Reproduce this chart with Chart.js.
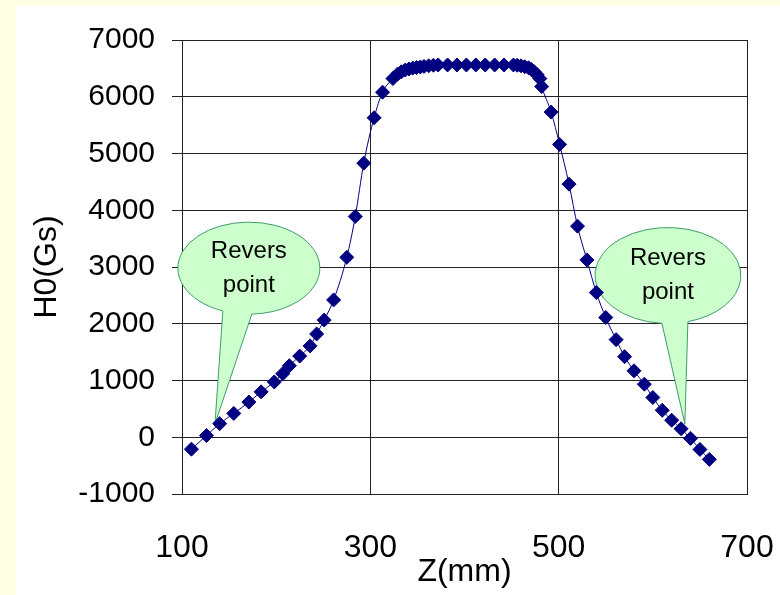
<!DOCTYPE html>
<html>
<head>
<meta charset="utf-8">
<title>H0 along Z</title>
<script src="https://cdn.jsdelivr.net/npm/chart.js@4.4.1/dist/chart.umd.min.js"></script>
<style>
  html, body { margin: 0; padding: 0; background: #FFFFE3; }
  body { width: 780px; height: 595px; position: relative; overflow: hidden; }
  #panel { position: absolute; left: 16px; top: 5px; width: 764px; height: 590px; background: #FFFFFF; }
  canvas { display: block; }
</style>
</head>
<body>
<div id="panel"><canvas id="chart" width="764" height="590"></canvas></div>
<script>
// Measured field H0 (Gs) along the axis Z (mm)
const zPositions = [
  110, 126, 140, 155, 171, 184, 198, 207, 214, 225,
  236, 243, 251, 261, 275, 284, 293, 304, 313, 324,
  329, 333, 337, 341, 345, 349, 353, 357, 362, 367,
  372, 382, 392, 402, 412, 422, 432, 442, 452,
  456, 460, 464, 468, 471, 474, 477, 480, 482,
  492, 501, 511, 520, 530, 540, 550, 561, 570, 580,
  591, 600, 610, 620, 630, 640, 650, 660
];
const fieldValues = [
  -210, 30, 240, 420, 620, 800, 975, 1120, 1260, 1430,
  1610, 1820, 2065, 2420, 3170, 3890, 4830, 5630, 6080, 6320,
  6400, 6440, 6470, 6490, 6505, 6515, 6525, 6535, 6545, 6555,
  6560, 6560, 6560, 6560, 6560, 6560, 6560, 6560, 6560,
  6555, 6545, 6530, 6510, 6480, 6440, 6390, 6320, 6180,
  5730, 5160, 4460, 3720, 3125, 2550, 2110, 1720, 1420, 1170,
  935, 700, 475, 300, 150, -20, -215, -390
];
const zTicks = [100, 300, 500, 700];
const fieldTickStep = 1000;
const axisTitles = { x: 'Z(mm)', y: 'H0(Gs)' };

// Callout bubbles marking the two field reversal points
const calloutLines = ['Revers', 'point'];
const callouts = [
  { tip: { z: 135, h: 235 }, centre: { z: 171, h: 2980 }, rx: 71, ry: 46, tailLeft: -26, tailRight: 3 },
  { tip: { z: 634, h: 235 }, centre: { z: 616, h: 2850 }, rx: 73, ry: 48, tailLeft: -6, tailRight: 20 }
];

const calloutPlugin = {
  id: 'reversCallouts',
  beforeDatasetsDraw(chart) {
    const { ctx, scales: { x, y } } = chart;
    ctx.save();
    callouts.forEach(c => {
      const cx = x.getPixelForValue(c.centre.z);
      const cy = y.getPixelForValue(c.centre.h);
      const tx = x.getPixelForValue(c.tip.z);
      const ty = y.getPixelForValue(c.tip.h);
      const aL = Math.acos(c.tailLeft / c.rx);
      const aR = Math.acos(c.tailRight / c.rx);
      ctx.beginPath();
      ctx.ellipse(cx, cy, c.rx, c.ry, 0, aL, aR + 2 * Math.PI);
      ctx.lineTo(tx, ty);
      ctx.closePath();
      ctx.fillStyle = '#CCFFCC';
      ctx.fill();
      ctx.lineWidth = 1;
      ctx.strokeStyle = '#3E9C6C';
      ctx.stroke();
      ctx.fillStyle = '#000000';
      ctx.font = '24px "Liberation Sans", Arial, sans-serif';
      ctx.textAlign = 'center';
      ctx.textBaseline = 'middle';
      ctx.fillText(calloutLines[0], cx, cy - 17);
      ctx.fillText(calloutLines[1], cx, cy + 17);
    });
    ctx.restore();
  }
};

const points = zPositions.map((z, i) => ({ x: z, y: fieldValues[i] }));
const gridColour = '#222222';
const plainFamily = '"Liberation Sans", Arial, sans-serif';

new Chart(document.getElementById('chart'), {
  type: 'line',
  data: {
    datasets: [{
      data: points,
      borderColor: '#000080',
      borderWidth: 1,
      backgroundColor: '#000080',
      pointStyle: 'rectRot',
      pointRadius: 7,
      pointBorderWidth: 1,
      pointBorderColor: '#000080',
      pointBackgroundColor: '#000080',
      cubicInterpolationMode: 'monotone',
      fill: false
    }]
  },
  options: {
    responsive: false,
    animation: false,
    devicePixelRatio: 1,
    layout: { padding: { top: 34, right: 33, left: 0, bottom: 0 } },
    plugins: { legend: { display: false }, tooltip: { enabled: false } },
    scales: {
      x: {
        type: 'linear',
        min: zTicks[0],
        max: zTicks[zTicks.length - 1],
        afterBuildTicks(scale) { scale.ticks = zTicks.map(v => ({ value: v })); },
        afterFit(scale) { scale.height = 101; },
        grid: { color: gridColour, lineWidth: 1, drawTicks: true, tickLength: 33, tickColor: 'rgba(0,0,0,0)' },
        border: { display: true, color: gridColour, width: 1 },
        ticks: { color: '#000', padding: 2, maxRotation: 0, font: { family: plainFamily, size: 32 }, callback: v => String(v) },
        title: {
          display: true, text: axisTitles.x, color: '#000',
          font: { family: plainFamily, size: 32 },
          padding: { top: 0, bottom: 4 }
        }
      },
      y: {
        min: -1000,
        max: 7000,
        afterFit(scale) { scale.width = 166; },
        grid: { color: gridColour, lineWidth: 1, drawTicks: true, tickLength: 10 },
        border: { display: true, color: gridColour, width: 1 },
        ticks: { stepSize: fieldTickStep, color: '#000', padding: 17, font: { family: plainFamily, size: 30 }, callback: v => String(v) },
        title: {
          display: true, text: axisTitles.y, color: '#000',
          font: { family: plainFamily, size: 32 },
          padding: { top: 12, bottom: 0 }
        }
      }
    }
  },
  plugins: [calloutPlugin]
});
</script>
</body>
</html>
